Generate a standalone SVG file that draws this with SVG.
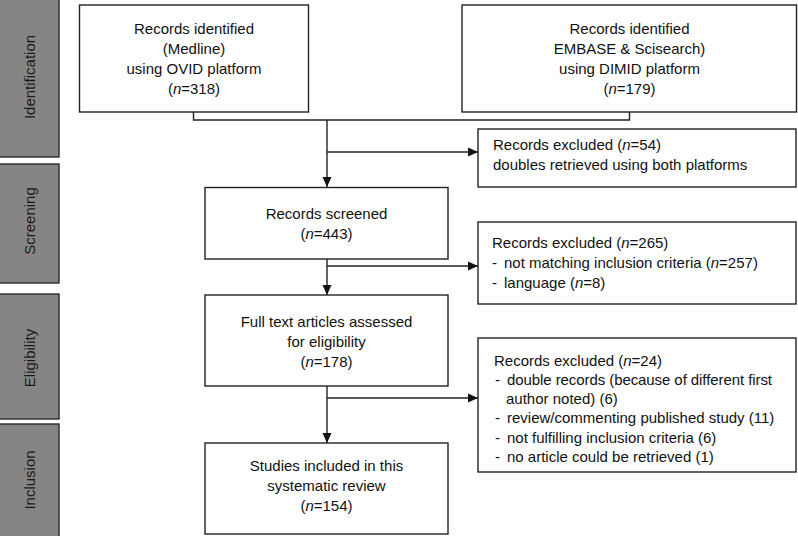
<svg xmlns="http://www.w3.org/2000/svg" width="798" height="536" viewBox="0 0 798 536">
<defs>
<marker id="arr" markerUnits="userSpaceOnUse" markerWidth="10" markerHeight="10" refX="10" refY="5" orient="auto">
<path d="M0,0.5 L10,5 L0,9.5 z" fill="#111"/>
</marker>
<style>
.box{fill:#fff;stroke:#222;stroke-width:1.4}
.phase{fill:#858585;stroke:#2a2a2a;stroke-width:1.4}
.t{font-family:"Liberation Sans",Arial,sans-serif;font-size:15px;fill:#111}
.c{text-anchor:middle}
.pt{font-family:"Liberation Sans",Arial,sans-serif;font-size:15px;fill:#1a1a1a;text-anchor:middle}
.ln{fill:none;stroke:#222;stroke-width:1.4}
.arw{fill:none;stroke:#222;stroke-width:1.4;marker-end:url(#arr)}
</style>
</defs>
<rect width="798" height="536" fill="#fff"/>

<g id="phase-identification">
<rect class="phase" x="-1" y="-1" width="60" height="158"/>
<text class="pt" transform="translate(34.5,77) rotate(-90)">Identification</text>
</g>
<g id="phase-screening">
<rect class="phase" x="-1" y="164" width="60" height="119"/>
<text class="pt" transform="translate(34.5,221) rotate(-90)">Screening</text>
</g>
<g id="phase-eligibility">
<rect class="phase" x="-1" y="294" width="60" height="125"/>
<text class="pt" transform="translate(34.5,358) rotate(-90)">Eligibility</text>
</g>
<g id="phase-inclusion">
<rect class="phase" x="-1" y="424" width="60" height="113"/>
<text class="pt" transform="translate(34.5,480) rotate(-90)">Inclusion</text>
</g>

<g id="connectors">
<path class="ln" d="M193.5,112 V120 H629.5 V112"/>
<path class="arw" d="M327,120 V187"/>
<path class="arw" d="M327,152 H478"/>
<path class="arw" d="M327,259 V295"/>
<path class="arw" d="M327,266 H478"/>
<path class="arw" d="M327,386 V443"/>
<path class="arw" d="M327,398 H478"/>
</g>

<g id="records-medline">
<rect class="box" x="79.5" y="5" width="229" height="107"/>
<text class="t c" x="194" y="34">Records identified</text>
<text class="t c" x="194" y="54">(Medline)</text>
<text class="t c" x="194" y="74">using OVID platform</text>
<text class="t c" x="194" y="94">(<tspan font-style="italic">n</tspan>=318)</text>
</g>

<g id="records-embase">
<rect class="box" x="462" y="5" width="334.5" height="107"/>
<text class="t c" x="629.5" y="34">Records identified</text>
<text class="t c" x="629.5" y="54">EMBASE &amp; Scisearch)</text>
<text class="t c" x="629.5" y="74">using DIMID platform</text>
<text class="t c" x="629.5" y="94">(<tspan font-style="italic">n</tspan>=179)</text>
</g>

<g id="excluded-doubles">
<rect class="box" x="478" y="129" width="318" height="58"/>
<text class="t" x="493" y="150">Records excluded (<tspan font-style="italic">n</tspan>=54)</text>
<text class="t" x="493" y="170">doubles retrieved using both platforms</text>
</g>

<g id="records-screened">
<rect class="box" x="205" y="187.5" width="243" height="71.5"/>
<text class="t c" x="326.5" y="219">Records screened</text>
<text class="t c" x="326.5" y="239">(<tspan font-style="italic">n</tspan>=443)</text>
</g>

<g id="excluded-screening">
<rect class="box" x="478" y="222" width="318" height="82"/>
<text class="t" x="492" y="248">Records excluded (<tspan font-style="italic">n</tspan>=265)</text>
<text class="t" x="492" y="268">-</text>
<text class="t" x="504" y="268">not matching inclusion criteria (<tspan font-style="italic">n</tspan>=257)</text>
<text class="t" x="492" y="288">-</text>
<text class="t" x="504" y="288">language (<tspan font-style="italic">n</tspan>=8)</text>
</g>

<g id="full-text">
<rect class="box" x="205" y="295" width="243" height="91"/>
<text class="t c" x="326.5" y="327">Full text articles assessed</text>
<text class="t c" x="326.5" y="347">for eligibility</text>
<text class="t c" x="326.5" y="367">(<tspan font-style="italic">n</tspan>=178)</text>
</g>

<g id="excluded-eligibility">
<rect class="box" x="478" y="338" width="318" height="134"/>
<text class="t" x="494" y="366">Records excluded (<tspan font-style="italic">n</tspan>=24)</text>
<text class="t" x="495" y="385">-</text>
<text class="t" x="507" y="385" textLength="265" lengthAdjust="spacing">double records (because of different first</text>
<text class="t" x="506" y="404">author noted) (6)</text>
<text class="t" x="495" y="423">-</text>
<text class="t" x="507" y="423">review/commenting published study (11)</text>
<text class="t" x="495" y="443">-</text>
<text class="t" x="507" y="443">not fulfilling inclusion criteria (6)</text>
<text class="t" x="495" y="462">-</text>
<text class="t" x="507" y="462">no article could be retrieved (1)</text>
</g>

<g id="studies-included">
<rect class="box" x="205" y="443" width="243" height="91"/>
<text class="t c" x="326.5" y="471">Studies included in this</text>
<text class="t c" x="326.5" y="491">systematic review</text>
<text class="t c" x="326.5" y="511">(<tspan font-style="italic">n</tspan>=154)</text>
</g>
</svg>
